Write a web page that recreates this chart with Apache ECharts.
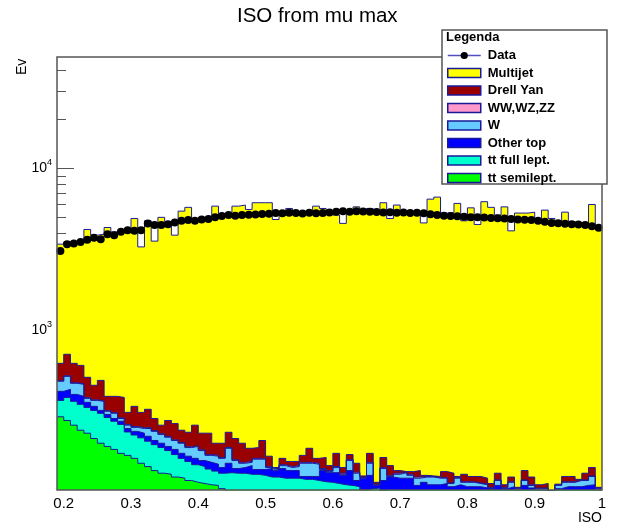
<!DOCTYPE html>
<html><head><meta charset="utf-8">
<script src="https://cdn.jsdelivr.net/npm/echarts@6/dist/echarts.min.js"></script>
<style>html,body{margin:0;padding:0;background:#fff}#c{width:622px;height:526px}</style>
</head><body><div id="c"></div>
<script>
// ---- axis / binning ----
const X_MIN = 0.19;
const X_MAX = 1.0;
const BIN_W = 0.01;
const xTickLabels = [0.2, 0.3, 0.4, 0.5, 0.6, 0.7, 0.8, 0.9, 1.0];
const yMajorTicks = [1000, 10000];
const yMinorTicks = [200,300,400,500,600,700,800,900,2000,3000,4000,5000,6000,7000,8000,9000,20000,30000,40000];

// ---- stacked MC components (events per bin, 81 bins from 0.19 to 1.0) ----
const ttSemilept = [294,279,261,243,233,216,202,193,185,175,170,163,152,145,137,132,130,125,123,119,116,114,112,111,106,100,95,
  90,86,82,78,74,70,67,64,61,58,55,52,50,47,45,43,41,39,37,35,33,31,30,28,27,26,25,24,
  23,22,21,20,19,18,17,16,15,14,13,12,12,11,11,10,10,9,9,8,8,7,7,7,6,6];
const ttFullLept = [77,108,105,108,103,106,107,98,91,89,67,64,66,63,61,58,52,47,40,37,33,31,28,25,26,33,37,
  42,44,48,50,51,55,56,59,62,63,66,67,67,69,69,69,70,70,67,71,74,72,70,69,68,68,69,68,
  67,66,66,65,65,64,64,63,63,62,62,61,61,60,60,60,59,59,58,58,58,57,57,56,56,56];
const otherTop = [51,47,38,42,25,19,13,13,11,12,12,12,15,15,12,12,11,13,12,12,14,13,14,14,11,19,9,
  11,17,9,11,16,12,18,14,14,5,5,7,20,17,19,16,26,10,19,22,4,16,25,26,28,29,17,24,
  22,24,27,24,28,27,28,30,29,30,36,33,36,33,40,37,35,36,33,40,43,45,45,48,50,42];
const wJets = [65,88,69,73,21,30,44,14,22,11,12,14,16,26,29,27,27,25,27,22,30,24,16,18,20,36,17,
  9,7,22,22,2,2,6,6,8,26,26,24,2,2,10,2,21,13,1,24,1,22,1,7,10,5,12,9,
  13,11,9,5,11,7,7,5,5,1,8,1,7,2,8,4,2,2,1,5,7,7,10,8,14,2];
const diboson = [4,4,4,4,4,3,3,3,3,3,3,3,3,3,3,2,2,2,2,2,2,2,2,2,2,2,2,
  2,2,2,2,2,1,2,2,2,2,2,2,2,2,2,2,2,2,1,2,1,2,2,2,1,2,2,1,
  1,1,1,1,1,1,1,1,1,1,1,1,1,1,1,1,1,1,1,1,1,1,1,1,1,1];
const drellYan = [137,188,151,140,129,86,124,72,81,97,49,85,61,75,45,30,57,55,39,44,66,49,61,32,37,46,56,
  48,32,27,47,23,3,14,11,9,16,34,11,24,10,30,11,12,18,2,21,3,22,19,5,1,5,12,2,
  1,2,11,17,2,13,9,11,10,6,12,4,8,1,17,13,5,7,1,1,9,9,1,12,16,1];
const multijet = [2782,2806,2892,2910,3685,3415,3437,3927,3667,3773,3887,4569,2967,4423,3273,4729,4401,3608,5207,5514,4604,4677,4757,5648,4948,5064,5634,
  5738,5392,5950,5930,5972,4697,4987,5504,5144,5250,5112,5687,5495,5153,4975,4437,5128,5638,5293,5485,5304,5975,4763,5803,5165,5165,5163,4482,
  6333,6524,5165,5198,5954,4620,5584,4384,6107,5636,5018,5678,3995,5192,5163,5245,4688,5416,4807,4567,5244,4554,4489,4478,5847,4142];
// ---- observed data ----
const dataCounts = [3090,3410,3440,3520,3630,3740,3650,3930,3875,4060,4160,4120,4160,4580,4470,4470,4530,4640,4750,4800,4760,4840,4865,4990,5080,5150,5110,
  5150,5180,5200,5230,5260,5310,5280,5330,5300,5270,5320,5290,5310,5340,5400,5440,5410,5450,5430,5400,5380,5350,5360,5320,5340,5310,5320,
  5290,5220,5150,5110,5080,5070,5040,5000,4990,4970,4950,4920,4900,4865,4845,4830,4800,4750,4695,4610,4595,4560,4530,4500,4470,4400,4300];

const OUTLINE = '#1a1a99';
const FONT = 'Liberation Sans';
const N = dataCounts.length;
const edges = [];
for (let i = 0; i <= N; i++) edges.push(+(X_MIN + i * BIN_W).toFixed(3));
function stepData(vals) {
  const d = vals.map((v, i) => [edges[i], v]);
  d.push([edges[N], vals[N - 1]]);
  return d;
}
const centers = dataCounts.map((v, i) => [+(edges[i] + BIN_W / 2).toFixed(4), v]);

// stack order bottom -> top (THStack)
const stackDefs = [
  { name: 'tt semilept.', vals: ttSemilept, fill: '#00ff00' },
  { name: 'tt full lept.', vals: ttFullLept, fill: '#00ffcc' },
  { name: 'Other top', vals: otherTop, fill: '#0000ff' },
  { name: 'W', vals: wJets, fill: '#66ccff' },
  { name: 'WW,WZ,ZZ', vals: diboson, fill: '#ff99cc' },
  { name: 'Drell Yan', vals: drellYan, fill: '#990000' },
  { name: 'Multijet', vals: multijet, fill: '#ffff00' }
];
let running = new Array(N).fill(0);
const stackSeries = stackDefs.map((s, k) => {
  running = running.map((r, i) => r + s.vals[i]);
  return {
    name: s.name, type: 'line', step: 'end', data: stepData(running.slice()),
    symbol: 'none', showSymbol: false,
    lineStyle: { color: OUTLINE, width: 1 },
    itemStyle: { color: s.fill },
    areaStyle: { color: s.fill, opacity: 1, origin: 'start' },
    emphasis: { disabled: true }, z: 2
  };
}).reverse(); // draw the tallest first, lower layers on top

const chart = echarts.init(document.getElementById('c'), null, { renderer: 'canvas' });
chart.setOption({
  animation: false,
  backgroundColor: '#fff',
  title: [
    { text: 'ISO from mu max', left: 237, top: 6, padding: 0,
      textStyle: { fontFamily: FONT, fontSize: 20.5, fontWeight: 'normal', color: '#000' } },
    { text: 'Legenda', left: 446, top: 31, padding: 0, z: 12,
      textStyle: { fontFamily: FONT, fontSize: 13, fontWeight: 'bold', color: '#000' } }
  ],
  grid: { left: 57, right: 20, top: 57, bottom: 36, show: false },
  xAxis: [
    { type: 'value', min: X_MIN, max: X_MAX, position: 'bottom',
      axisLine: { show: false }, axisTick: { show: false }, splitLine: { show: false },
      axisLabel: { customValues: xTickLabels, formatter: v => String(v), margin: 6,
        fontSize: 15, fontFamily: FONT, color: '#000' } },
    { type: 'value', min: X_MIN, max: X_MAX, position: 'bottom', offset: 28,
      name: 'ISO', nameLocation: 'end', nameGap: 0,
      nameTextStyle: { align: 'right', fontSize: 14, fontFamily: FONT, color: '#000' },
      axisLine: { show: false }, axisTick: { show: false }, axisLabel: { show: false }, splitLine: { show: false } }
  ],
  yAxis: [
    { type: 'log', logBase: 10, min: 104, max: 48600, position: 'left',
      axisLine: { show: false }, splitLine: { show: false },
      axisTick: { inside: true, length: 17, customValues: yMajorTicks, lineStyle: { color: '#555' } },
      axisLabel: { customValues: yMajorTicks, margin: 5, fontSize: 14, fontFamily: FONT, color: '#000',
        formatter: v => '10{s|' + Math.round(Math.log10(v)) + '}',
        rich: { s: { fontSize: 9, fontFamily: FONT, color: '#000', padding: [0, 0, 12, 0] } } } },
    { type: 'log', logBase: 10, min: 104, max: 48600, position: 'left',
      axisLine: { show: false }, splitLine: { show: false }, axisLabel: { show: false },
      axisTick: { inside: true, length: 9, customValues: yMinorTicks, lineStyle: { color: '#555' } } },
    { type: 'log', logBase: 10, min: 104, max: 48600, position: 'left', offset: 35,
      name: 'Ev', nameLocation: 'end', nameRotate: 90, nameGap: -18,
      nameTextStyle: { fontSize: 14, fontFamily: FONT, color: '#000' },
      axisLine: { show: false }, axisTick: { show: false }, axisLabel: { show: false }, splitLine: { show: false } }
  ],
  legend: {
    orient: 'vertical', left: 447, top: 49, itemWidth: 33, itemHeight: 9, itemGap: 4.5,
    selectedMode: false, z: 10, padding: 0,
    textStyle: { fontFamily: FONT, fontWeight: 'bold', fontSize: 13, color: '#000', lineHeight: 13, padding: [0, 0, 0, 2] },
    data: [
      { name: 'Data', lineStyle: { color: '#5050c0', width: 1.5, opacity: 1 }, itemStyle: { color: '#000' } },
      { name: 'Multijet', icon: 'rect', itemStyle: { borderColor: OUTLINE, borderWidth: 1.5 } },
      { name: 'Drell Yan', icon: 'rect', itemStyle: { borderColor: OUTLINE, borderWidth: 1.5 } },
      { name: 'WW,WZ,ZZ', icon: 'rect', itemStyle: { borderColor: OUTLINE, borderWidth: 1.5 } },
      { name: 'W', icon: 'rect', itemStyle: { borderColor: OUTLINE, borderWidth: 1.5 } },
      { name: 'Other top', icon: 'rect', itemStyle: { borderColor: OUTLINE, borderWidth: 1.5 } },
      { name: 'tt full lept.', icon: 'rect', itemStyle: { borderColor: OUTLINE, borderWidth: 1.5 } },
      { name: 'tt semilept.', icon: 'rect', itemStyle: { borderColor: OUTLINE, borderWidth: 1.5 } }
    ]
  },
  graphic: [
    { type: 'rect', z: 6, silent: true, shape: { x: 57, y: 57, width: 545, height: 433 },
      style: { fill: 'none', stroke: '#555', lineWidth: 1.5 } },
    { type: 'rect', z: 8, silent: true, shape: { x: 442, y: 30, width: 165, height: 154 },
      style: { fill: '#fff', stroke: '#555', lineWidth: 1.5 } }
  ],
  series: stackSeries.concat([
    { name: 'Data', type: 'line', data: centers, symbol: 'circle', symbolSize: 8, showSymbol: true,
      itemStyle: { color: '#000' }, lineStyle: { width: 0, opacity: 0 }, emphasis: { disabled: true }, z: 5 }
  ])
});
</script></body></html>
